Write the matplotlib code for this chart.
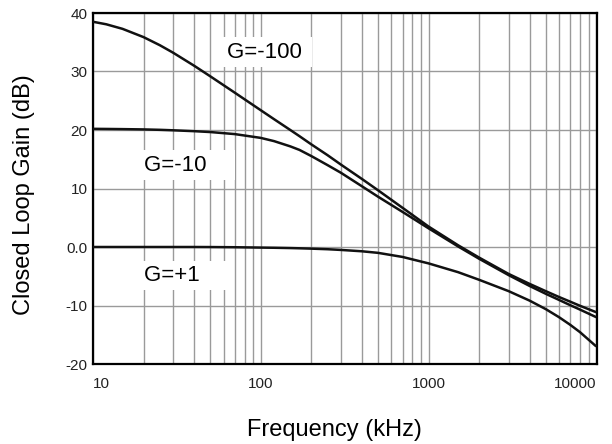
import matplotlib
matplotlib.use("Agg")
import matplotlib.pyplot as plt

plt.rcParams['font.family'] = ['Liberation Sans', 'DejaVu Sans']

freq_khz = [10, 12, 15, 20, 25, 30, 40, 50, 70, 100, 120, 150, 170, 200, 250, 300, 400, 500, 700, 1000,
            1500, 2000, 3000, 4000, 5000, 6000, 7000, 8000, 10000]
gain_m100 = [38.5, 38.07, 37.29, 35.88, 34.5, 33.22, 31.0, 29.18, 26.38, 23.38, 21.85, 20.0, 18.95, 17.55, 15.7, 14.1,
             11.65, 9.7, 6.7, 3.5, 0.3, -1.8, -4.6, -6.3, -7.55, -8.55, -9.35, -10.05, -11.15]
gain_m10 = [20.2, 20.18, 20.15, 20.1, 20.03, 19.95, 19.8, 19.65, 19.3, 18.65, 18.1, 17.2, 16.6, 15.55, 14.0, 12.7,
            10.4, 8.6, 6.0, 3.2, 0.1, -2.0, -4.8, -6.65, -8.0, -9.05, -9.95, -10.7, -12.0]
gain_p1 = [0.0, 0.0, 0.0, 0.0, 0.0, 0.0, 0.0, -0.01, -0.04, -0.1, -0.13, -0.18, -0.22, -0.28, -0.38, -0.5,
           -0.73, -1.0, -1.7, -2.8, -4.3, -5.6, -7.54, -9.16, -10.62, -12.0, -13.31, -14.56, -17.0]

labels = ["G=-100 ", "G=-10    ", "G=+1    "]
label_pos = [(63, 33.3), (20, 14.0), (20, -4.9)]

x_ticks = [10, 100, 1000, 10000]
x_ticklabels = ["10", "100", "1000", "10000"]
y_ticks = [-20, -10, 0, 10, 20, 30, 40]
y_ticklabels = ["-20", "-10", "0.0", "10", "20", "30", "40"]

fig = plt.figure(figsize=(6.12, 4.44), dpi=100)
ax = fig.add_axes([93/612, 80/444, 504/612, 351/444])

ax.set_xscale('log')
ax.set_xlim(10, 10100)
ax.set_ylim(-20, 40)

for g in (gain_m100, gain_m10, gain_p1):
    ax.plot(freq_khz, g, color='#111111', lw=1.8, zorder=3,
            solid_joinstyle='round', solid_capstyle='butt')

ax.grid(which='major', axis='both', color='#9a9a9a', lw=1.0, zorder=1)
ax.grid(which='minor', axis='x', color='#9a9a9a', lw=1.0, zorder=1)
ax.set_axisbelow(True)

ax.set_xticks(x_ticks)
ax.set_xticklabels(x_ticklabels)
ax.set_yticks(y_ticks)
ax.set_yticklabels(y_ticklabels)
ax.tick_params(axis='both', which='both', length=0, labelsize=11, colors='#222222')
ax.tick_params(axis='x', pad=9)
ax.tick_params(axis='y', pad=4)
xl = ax.get_xticklabels()
xl[0].set_horizontalalignment('left')
xl[-1].set_horizontalalignment('right')

for s in ax.spines.values():
    s.set_linewidth(1.6)
    s.set_color('black')

for txt, (lx, ly) in zip(labels, label_pos):
    ax.text(lx, ly, txt, fontsize=16, ha='left', va='center', zorder=4,
            bbox=dict(facecolor='white', edgecolor='none', pad=3))

fig.text(334/612, 1 - 430/444, "Frequency (kHz)", fontsize=17, ha='center', va='center')
fig.text(24/612, 1 - 195/444, "Closed Loop Gain (dB)", fontsize=17, ha='center', va='center', rotation=90)

fig.savefig("out.png", dpi=100)
